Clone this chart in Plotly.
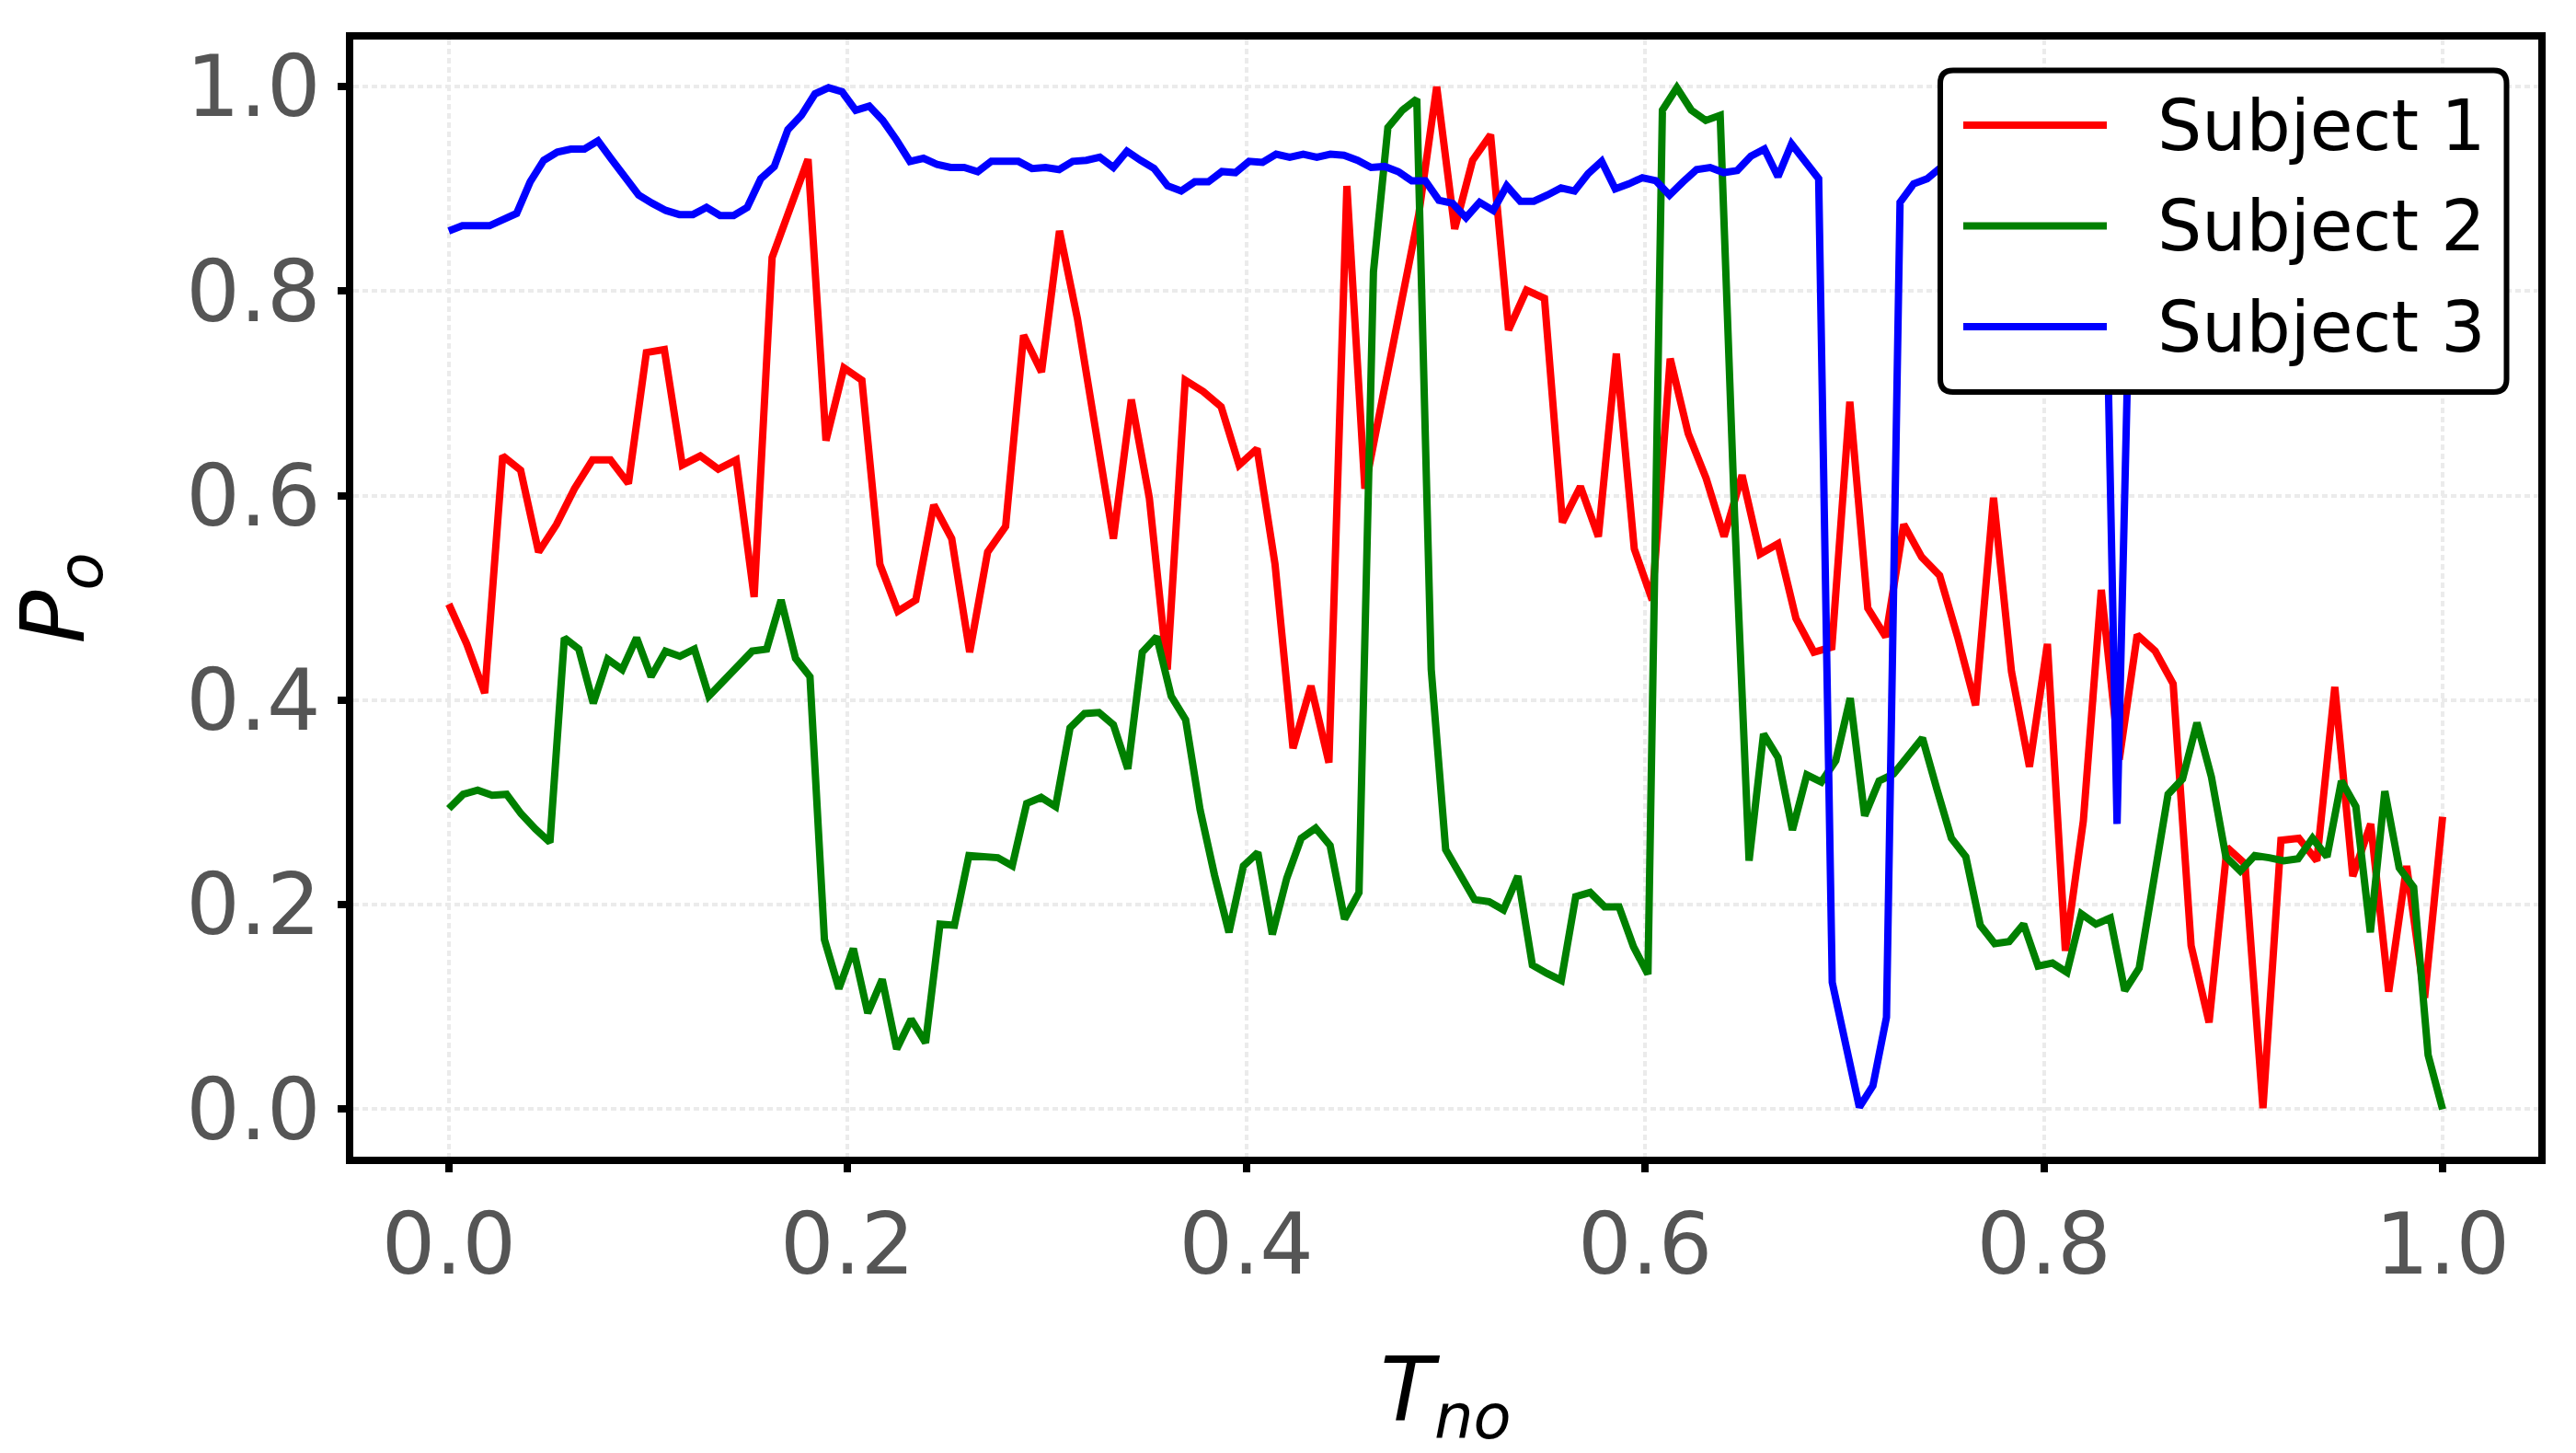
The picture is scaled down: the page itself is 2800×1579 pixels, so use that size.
import numpy as np
import plotly.graph_objects as go

# ---------------- data ----------------
subject_names = ["Subject 1", "Subject 2", "Subject 3"]
subject_colors = ["#ff0000", "#008000", "#0000ff"]

subject1_po = [
    0.494, 0.455, 0.407, 0.639, 0.625, 0.545, 0.572, 0.607, 0.635, 0.635,
    0.612, 0.740, 0.743, 0.630, 0.639, 0.626, 0.635, 0.501, 0.833, 0.882,
    0.929, 0.654, 0.725, 0.713, 0.533, 0.487, 0.498, 0.591, 0.558, 0.447,
    0.545, 0.570, 0.757, 0.721, 0.859, 0.773, 0.663, 0.558, 0.694, 0.598,
    0.430, 0.713, 0.702, 0.687, 0.630, 0.646, 0.533, 0.353, 0.414, 0.339,
    0.903, 0.607, 0.697, 0.789, 0.875, 1.000, 0.861, 0.928, 0.953, 0.762,
    0.801, 0.793, 0.574, 0.609, 0.560, 0.739, 0.548, 0.498, 0.734, 0.661,
    0.617, 0.560, 0.620, 0.543, 0.553, 0.480, 0.447, 0.452, 0.692, 0.490,
    0.462, 0.572, 0.540, 0.522, 0.462, 0.395, 0.598, 0.428, 0.335, 0.455,
    0.155, 0.282, 0.508, 0.342, 0.464, 0.448, 0.416, 0.160, 0.085, 0.256,
    0.240, 0.001, 0.263, 0.265, 0.243, 0.413, 0.228, 0.279, 0.115, 0.238,
    0.109, 0.286,
]

subject2_po = [
    0.294, 0.308, 0.312, 0.307, 0.308, 0.289, 0.274, 0.261, 0.461, 0.450,
    0.397, 0.440, 0.430, 0.461, 0.423, 0.448, 0.443, 0.450, 0.404, 0.418,
    0.433, 0.448, 0.450, 0.498, 0.441, 0.423, 0.166, 0.118, 0.157, 0.094,
    0.127, 0.059, 0.088, 0.065, 0.181, 0.180, 0.248, 0.247, 0.246, 0.238,
    0.299, 0.305, 0.296, 0.373, 0.387, 0.388, 0.376, 0.333, 0.447, 0.462,
    0.404, 0.381, 0.293, 0.229, 0.173, 0.238, 0.251, 0.171, 0.226, 0.265,
    0.275, 0.258, 0.186, 0.212, 0.819, 0.960, 0.977, 0.988, 0.430, 0.254,
    0.231, 0.205, 0.203, 0.195, 0.228, 0.141, 0.133, 0.126, 0.208, 0.212,
    0.198, 0.198, 0.159, 0.132, 0.977, 0.999, 0.977, 0.967, 0.972, 0.580,
    0.243, 0.367, 0.344, 0.273, 0.327, 0.320, 0.341, 0.402, 0.287, 0.321,
    0.328, 0.347, 0.363, 0.313, 0.265, 0.247, 0.180, 0.162, 0.164, 0.181,
    0.140, 0.143, 0.134, 0.191, 0.181, 0.187, 0.116, 0.138, 0.222, 0.308,
    0.323, 0.378, 0.325, 0.247, 0.233, 0.248, 0.246, 0.243, 0.245, 0.265,
    0.247, 0.321, 0.296, 0.173, 0.311, 0.236, 0.217, 0.053, 0.000,
]

subject3_po = [
    0.859, 0.864, 0.864, 0.864, 0.870, 0.876, 0.907, 0.928, 0.936, 0.939,
    0.939, 0.947, 0.929, 0.910, 0.894, 0.886, 0.879, 0.875, 0.875, 0.882,
    0.874, 0.874, 0.882, 0.910, 0.922, 0.958, 0.972, 0.993, 0.999, 0.995,
    0.977, 0.981, 0.967, 0.948, 0.927, 0.930, 0.924, 0.921, 0.921, 0.917,
    0.927, 0.927, 0.927, 0.920, 0.921, 0.919, 0.927, 0.928, 0.931, 0.921,
    0.937, 0.928, 0.920, 0.903, 0.898, 0.907, 0.907, 0.917, 0.916, 0.927,
    0.926, 0.934, 0.931, 0.934, 0.931, 0.934, 0.933, 0.928, 0.921, 0.922,
    0.917, 0.908, 0.908, 0.889, 0.886, 0.872, 0.887, 0.879, 0.903, 0.888,
    0.888, 0.894, 0.901, 0.898, 0.915, 0.927, 0.900, 0.905, 0.911, 0.908,
    0.894, 0.907, 0.919, 0.921, 0.916, 0.918, 0.932, 0.939, 0.912, 0.944,
    0.928, 0.910, 0.124, 0.064, 0.002, 0.023, 0.090, 0.887, 0.905, 0.910,
    0.921, 0.925, 0.930, 0.935, 0.940, 0.930, 0.935, 0.940, 0.945, 0.940,
    0.950, 0.955, 0.950, 0.279, 0.850, 0.900, 0.915, 0.920, 0.930, 0.925,
    0.935, 0.930, 0.940, 0.935, 0.930, 0.925, 0.930, 0.935, 0.940, 0.930,
    0.925, 0.935, 0.930, 0.940, 0.935, 0.930, 0.925, 0.930,
]

series_values = [subject1_po, subject2_po, subject3_po]

tick_values = [0.0, 0.2, 0.4, 0.6, 0.8, 1.0]
tick_labels = ["0.0", "0.2", "0.4", "0.6", "0.8", "1.0"]
x_title = "<i>T</i><sub><i>no</i></sub>"
y_title = "<i>P</i><sub><i>o</i></sub>"

# ---------------- geometry (pixels) ----------------
W, H = 2800, 1579
L, R, T, B = 384, 2759, 43, 1257          # inner edges of the frame
PW, PH = R - L, B - T

def px(xp):
    return (xp - L) / PW

def py(yp):
    return (B - yp) / PH

FONT = "DejaVu Sans"
LINE_W = 8

fig = go.Figure()
for name, color, vals in zip(subject_names, subject_colors, series_values):
    xs = np.linspace(0.0, 1.0, len(vals))   # normalised time of each sample
    fig.add_trace(go.Scatter(
        x=xs, y=vals, mode="lines", name=name,
        line=dict(color=color, width=LINE_W),
        showlegend=False,
    ))

axis_common = dict(
    showline=True, linecolor="black", linewidth=8, mirror=True,
    ticks="outside", ticklen=9, tickwidth=8, tickcolor="black",
    tickvals=tick_values, ticktext=tick_labels,
    tickfont=dict(family=FONT, size=92, color="#555555"),
    showgrid=True, gridcolor="#ebebeb", gridwidth=3.5, griddash="6px,4px",
    zeroline=False, automargin=False,
)

fig.update_xaxes(range=[-0.0479, 1.048], **axis_common,
                 title=dict(text=x_title, font=dict(family=FONT, size=96, color="black"),
                            standoff=90))
fig.update_yaxes(range=[-0.0464, 1.0461], **axis_common,
                 title=dict(text=y_title, font=dict(family=FONT, size=96, color="black"),
                            standoff=82))

# ---------------- legend (drawn as a framed box like the reference) ----------------
def rounded_rect(x0, y0, x1, y1, r):
    def P(a, b):
        return f"{px(a):.6f},{py(b):.6f}"
    return (f"M{P(x0 + r, y0)} L{P(x1 - r, y0)} Q{P(x1, y0)} {P(x1, y0 + r)} "
            f"L{P(x1, y1 - r)} Q{P(x1, y1)} {P(x1 - r, y1)} "
            f"L{P(x0 + r, y1)} Q{P(x0, y1)} {P(x0, y1 - r)} "
            f"L{P(x0, y0 + r)} Q{P(x0, y0)} {P(x0 + r, y0)} Z")

shapes = [dict(type="path", xref="paper", yref="paper",
               path=rounded_rect(2109, 76.5, 2724.5, 426, 14),
               fillcolor="white", line=dict(color="black", width=6), layer="above")]
row_y = [136, 245.5, 355]
annotations = []
for name, color, yy in zip(subject_names, subject_colors, row_y):
    shapes.append(dict(type="line", xref="paper", yref="paper",
                       x0=px(2134), x1=px(2290), y0=py(yy), y1=py(yy),
                       line=dict(color=color, width=LINE_W), layer="above"))
    annotations.append(dict(text=name, xref="paper", yref="paper",
                            x=px(2343), y=py(yy), xanchor="left", yanchor="middle",
                            showarrow=False,
                            font=dict(family=FONT, size=76, color="black")))

fig.update_layout(
    width=W, height=H,
    margin=dict(l=L, r=W - R, t=T, b=H - B, pad=0),
    paper_bgcolor="white", plot_bgcolor="white",
    shapes=shapes, annotations=annotations,
    showlegend=False,
)

fig.write_html("out.html")
